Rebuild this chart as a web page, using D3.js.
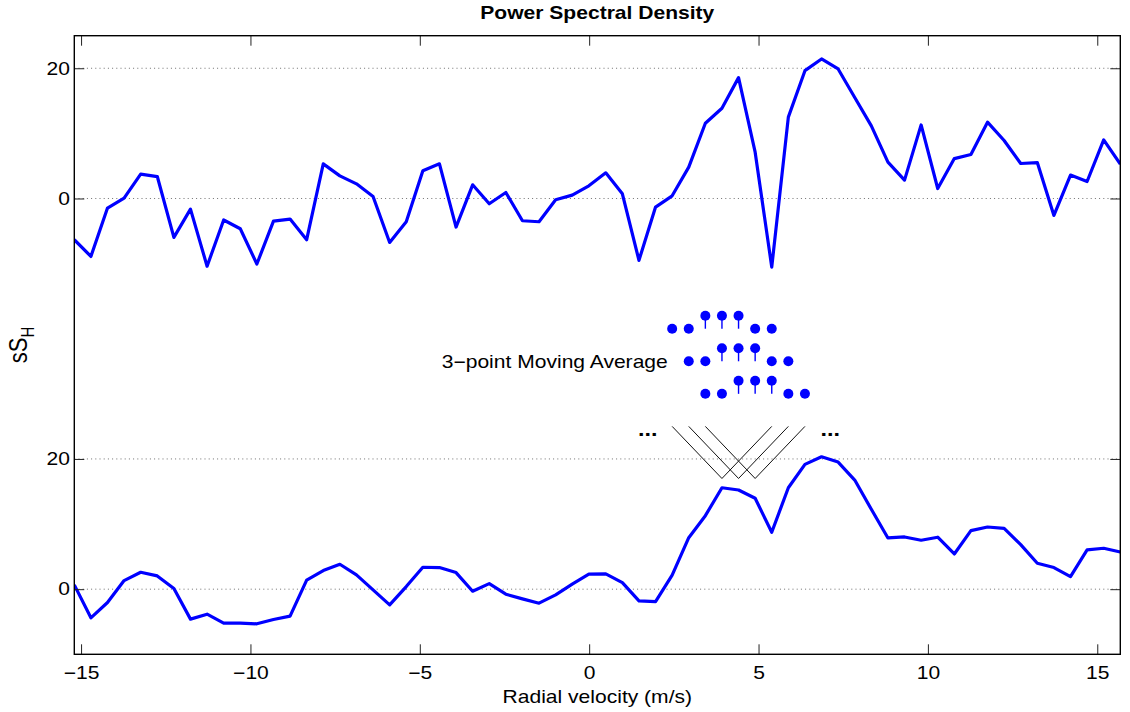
<!DOCTYPE html>
<html>
<head>
<meta charset="utf-8">
<script src="https://cdn.jsdelivr.net/npm/d3@7"></script>
<style>
  html, body { margin: 0; padding: 0; background: #fff; }
  svg { display: block; }
  text { font-family: "Liberation Sans", Arial, Helvetica, sans-serif; fill: #000; }
</style>
</head>
<body>
<svg id="chart" width="1130" height="712"></svg>
<script>
// ---------------- data ----------------
const velocity = [
  -15.20, -14.71, -14.22, -13.73, -13.24, -12.75, -12.26, -11.77, -11.28, -10.79,
  -10.30, -9.81, -9.32, -8.83, -8.34, -7.85, -7.36, -6.87, -6.38, -5.89,
  -5.40, -4.91, -4.42, -3.93, -3.44, -2.95, -2.46, -1.97, -1.48, -0.99,
  -0.50, -0.01, 0.49, 0.98, 1.47, 1.96, 2.45, 2.94, 3.43, 3.92,
  4.41, 4.90, 5.39, 5.88, 6.37, 6.86, 7.35, 7.84, 8.33, 8.82,
  9.31, 9.80, 10.29, 10.78, 11.27, 11.76, 12.25, 12.74, 13.23, 13.72,
  14.21, 14.70, 15.19, 15.68
];
// raw spectrum (upper curve)
const psdRaw = [
  -6.33, -8.9, -1.47, 0.06, 3.74, 3.37, -5.98, -1.63, -10.4, -3.3,
  -4.65, -10.06, -3.47, -3.16, -6.33, 5.32, 3.48, 2.25, 0.31, -6.75,
  -3.57, 4.25, 5.32, -4.39, 2.1, -0.81, 0.92, -3.42, -3.57, -0.2,
  0.52, 1.95, 3.94, 0.72, -9.5, -1.32, 0.41, 4.82, 11.56, 13.86,
  18.56, 7.11, -10.53, 12.5, 19.63, 21.43, 19.89, 15.5, 11.15, 5.58,
  2.82, 11.3, 1.53, 6.13, 6.75, 11.72, 8.9, 5.37, 5.52, -2.6,
  3.59, 2.61, 9.0, 5.28
];
// smoothed spectrum (lower curve)
const psdSmooth = [
  0.66, -4.4, -2.05, 1.32, 2.6, 2.04, 0.1, -4.6, -3.84, -5.2,
  -5.2, -5.32, -4.66, -4.14, 1.38, 2.86, 3.83, 2.19, -0.11, -2.41,
  0.4, 3.37, 3.32, 2.55, -0.31, 0.86, -0.77, -1.49, -2.15, -0.87,
  0.77, 2.3, 2.35, 1.01, -1.79, -1.9, 2.15, 7.91, 11.29, 15.58,
  15.23, 13.96, 8.74, 15.58, 19.17, 20.34, 19.52, 16.76, 12.27, 7.87,
  8.02, 7.52, 7.98, 5.41, 8.99, 9.55, 9.35, 6.84, 3.99, 3.32,
  1.93, 6.03, 6.29, 5.72
];
const smoothOffset = -60;             // lower panel shift (data units)
const xTickValues = [-15, -10, -5, 0, 5, 10, 15];
const yTickValues = [20, 0, -40, -60];
const yTickLabels = ["20", "0", "20", "0"];
const xDomain = [-15.2, 15.68];
const yDomain = [-70, 25];

// moving-average sketch
const maRowLevels = [-20, -25, -30];
const maRowStarts = [36, 37, 38];     // index into velocity
const maRowCount = 7;
const maRaisedSlots = [2, 3, 4];
const maRaise = 2;
const maVTop = -35, maVBottom = -43;
const maLabel = "3\u2212point Moving Average";
const maLabelX = 2.32, maLabelY = -25;
const ellipsisX = [1.73, 7.12], ellipsisY = -36;

// ---------------- layout ----------------
const W = 1130, H = 712;
const L = 74.3, R = 1120.3, T = 35.7, B = 654.3;
const SX = 1.17;  // horizontal text stretch of the reference
const blue = "#0000ff";

const svg = d3.select("#chart");
svg.append("rect").attr("width", W).attr("height", H).attr("fill", "#fff");

const x = d3.scaleLinear().domain(xDomain).range([L, R]);
const y = d3.scaleLinear().domain(yDomain).range([B, T]);

// grid
svg.append("g").selectAll("line").data(yTickValues).join("line")
  .attr("x1", L).attr("x2", R)
  .attr("y1", d => y(d)).attr("y2", d => y(d))
  .attr("stroke", "#6f6f6f").attr("stroke-width", 1)
  .attr("stroke-dasharray", "1,3.2");

// clip
svg.append("clipPath").attr("id", "clip").append("rect")
  .attr("x", L).attr("y", T).attr("width", R - L).attr("height", B - T);

const line = d3.line().x(d => x(d[0])).y(d => y(d[1]));
const plot = svg.append("g").attr("clip-path", "url(#clip)");
plot.append("path")
  .datum(velocity.map((v, i) => [v, psdRaw[i]]))
  .attr("d", line).attr("fill", "none").attr("stroke", blue)
  .attr("stroke-width", 3.2).attr("stroke-linejoin", "round");
plot.append("path")
  .datum(velocity.map((v, i) => [v, psdSmooth[i] + smoothOffset]))
  .attr("d", line).attr("fill", "none").attr("stroke", blue)
  .attr("stroke-width", 3.2).attr("stroke-linejoin", "round");

// axes
function styleAxis(g) {
  g.select(".domain").remove();
  g.selectAll(".tick line").attr("stroke", "#222").attr("stroke-width", 1);
  g.selectAll(".tick text").attr("font-size", 18)
    .attr("font-family", "'Liberation Sans', Arial, sans-serif").attr("fill", "#000");
}
const fmt = d => d3.format("d")(d);
const gx = svg.append("g").attr("transform", `translate(0,${B})`)
  .call(d3.axisBottom(x).tickValues(xTickValues).tickFormat(fmt)
    .tickSizeInner(-10).tickSizeOuter(0).tickPadding(12.2));
styleAxis(gx);
gx.selectAll(".tick text").attr("transform", `scale(${SX},1)`);

const gxt = svg.append("g").attr("transform", `translate(0,${T})`)
  .call(d3.axisTop(x).tickValues(xTickValues).tickFormat("")
    .tickSizeInner(-10).tickSizeOuter(0));
styleAxis(gxt);

const gy = svg.append("g").attr("transform", `translate(${L},0)`)
  .call(d3.axisLeft(y).tickValues(yTickValues)
    .tickFormat((d, i) => yTickLabels[i])
    .tickSizeInner(-10).tickSizeOuter(0).tickPadding(4.3));
styleAxis(gy);
gy.selectAll(".tick text").attr("x", null)
  .attr("transform", `translate(-4.3,0) scale(${SX},1)`);

const gyr = svg.append("g").attr("transform", `translate(${R},0)`)
  .call(d3.axisRight(y).tickValues(yTickValues).tickFormat("")
    .tickSizeInner(-10).tickSizeOuter(0));
styleAxis(gyr);

// box
svg.append("rect").attr("x", L).attr("y", T)
  .attr("width", R - L).attr("height", B - T)
  .attr("fill", "none").attr("stroke", "#000").attr("stroke-width", 1.4);

// title & labels
svg.append("text")
  .attr("transform", `translate(${(L + R) / 2},18.5) scale(${SX},1)`)
  .attr("text-anchor", "middle").attr("font-size", 18).attr("font-weight", "bold")
  .text("Power Spectral Density");

svg.append("text")
  .attr("transform", `translate(${(L + R) / 2},703) scale(${SX},1)`)
  .attr("text-anchor", "middle").attr("font-size", 18)
  .text("Radial velocity (m/s)");

const yl = svg.append("text")
  .attr("transform", `translate(27,${(T + B) / 2}) scale(${SX},1) rotate(-90)`)
  .attr("text-anchor", "middle").attr("font-size", 22);
yl.append("tspan").text("sS");
yl.append("tspan").attr("font-size", 15).attr("dy", 6).text("H");

// moving-average sketch
const ann = svg.append("g");
ann.append("text")
  .attr("transform", `translate(${x(maLabelX)},${y(maLabelY)}) scale(${SX},1)`)
  .attr("text-anchor", "end").attr("dy", "0.36em").attr("font-size", 18)
  .text(maLabel);

maRowLevels.forEach((lvl, r) => {
  for (let k = 0; k < maRowCount; k++) {
    const vx = x(velocity[maRowStarts[r] + k]);
    const raised = maRaisedSlots.includes(k);
    const vy = raised ? lvl + maRaise : lvl;
    if (raised) {
      ann.append("line").attr("x1", vx).attr("x2", vx)
        .attr("y1", y(vy)).attr("y2", y(lvl))
        .attr("stroke", blue).attr("stroke-width", 1.4);
    }
    ann.append("circle").attr("cx", vx).attr("cy", y(vy)).attr("r", 5)
      .attr("fill", blue);
  }
});

maRowStarts.forEach(s => {
  const pts = [[velocity[s], maVTop], [velocity[s + 3], maVBottom], [velocity[s + 6], maVTop]];
  ann.append("path").attr("d", line(pts))
    .attr("fill", "none").attr("stroke", "#111").attr("stroke-width", 1);
});

ellipsisX.forEach(ex => {
  ann.append("text")
    .attr("transform", `translate(${x(ex)},${y(ellipsisY)}) scale(${SX},1)`)
    .attr("text-anchor", "middle").attr("dy", "0.13em")
    .attr("font-size", 20).attr("font-weight", "bold").text("...");
});
</script>
</body>
</html>
